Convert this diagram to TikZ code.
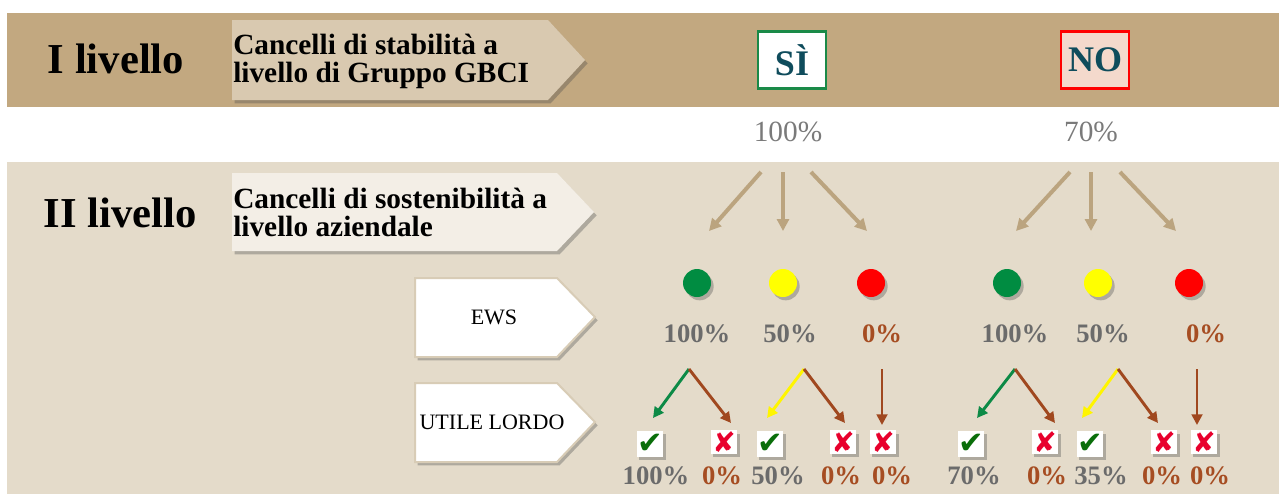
\documentclass[tikz,border=0pt]{standalone}
\usepackage{fontspec}
\setmainfont{Liberation Serif}
\newfontfamily\symb{DejaVu Sans}
\usetikzlibrary{arrows.meta,shadows,positioning,calc}

\definecolor{bandtop}{HTML}{C2A880}
\definecolor{bandlow}{HTML}{E4DBCA}
\definecolor{gatetop}{HTML}{D9C9B0}
\definecolor{gatelow}{HTML}{F3EEE6}
\definecolor{tagline}{HTML}{D8CCB6}
\definecolor{tanarrow}{HTML}{BBA47F}
\definecolor{dotgreen}{HTML}{008C41}
\definecolor{dotyellow}{HTML}{FFFF00}
\definecolor{dotred}{HTML}{FF0000}
\definecolor{toppctgray}{HTML}{7A7A7A}
\definecolor{pctgray}{HTML}{6B6B6B}
\definecolor{pctbrown}{HTML}{A64D22}
\definecolor{arrbrown}{HTML}{A0481F}
\definecolor{arrgreen}{HTML}{0C8A46}
\definecolor{arryellow}{HTML}{FFF500}
\definecolor{answerink}{HTML}{0F4C5C}
\definecolor{sigreen}{HTML}{1A8A48}
\definecolor{nored}{HTML}{FF0000}
\definecolor{nofill}{HTML}{F4D9CC}
\definecolor{okgreen}{HTML}{0A6E0A}
\definecolor{kored}{HTML}{E8002D}

\tikzset{
  softshadow/.style={drop shadow={shadow xshift=2pt, shadow yshift=-2.5pt, opacity=0.35, fill=black!70}},
  lvl/.style={font=\fontsize{32}{36}\selectfont\bfseries},
  gatetxt/.style={anchor=west, align=left, inner sep=0pt, font=\fontsize{22}{21}\selectfont\bfseries},
  tagshape/.style={fill=white, draw=tagline, line width=1.5pt, softshadow},
  tagtxt/.style={font=\fontsize{16.5}{18}\selectfont},
  ansbox/.style={line width=2.2pt, minimum width=51pt, minimum height=43pt, text=answerink, font=\fontsize{27}{30}\selectfont\bfseries},
  toppct/.style={text=toppctgray, font=\fontsize{22}{24}\selectfont},
  dot/.style={circle, minimum size=21pt, inner sep=0pt, softshadow},
  pct/.style={text=pctgray, font=\fontsize{20}{22}\selectfont\bfseries},
  zero/.style={pct, text=pctbrown},
  okbox/.style={fill=white, minimum width=20pt, minimum height=19.5pt, inner sep=0pt, softshadow, text=okgreen, font=\symb\fontsize{23}{23}\selectfont},
  kobox/.style={okbox, minimum height=17.5pt, text=kored, font=\symb\fontsize{21}{21}\selectfont},
  tanarr/.style={draw=tanarrow, line width=3pt, -{Triangle[length=9pt,width=9pt]}},
  forkarr/.style={line width=2.2pt, -{Triangle[length=8pt,width=8pt]}}
}

\begin{document}
\begin{tikzpicture}[x=0.75pt, y=-0.75pt]
    \useasboundingbox (0,0) rectangle (1279,494);

    % bands
    \fill[bandtop] (7,13) rectangle (1279,107);
    \fill[bandlow] (7,162) rectangle (1279,494);

    % level I
    \node[lvl] (lvl1) at (116,59) {I livello};
    \path[fill=gatetop, softshadow] (232,20) -- (548,20) -- (585,60) -- (548,100) -- (232,100) -- cycle;
    \node[gatetxt] (gate1) at (233,61) {Cancelli di stabilità a\\livello di Gruppo GBCI};
    \node[ansbox, draw=sigreen, fill=white] (si) at (792,60) {SÌ};
    \node[ansbox, draw=nored, fill=nofill] (no) at (1095,60) {NO};
    \node[toppct] (sipct) at (788,132) {100\%};
    \node[toppct] (nopct) at (1091,132) {70\%};

    % level II
    \node[lvl] (lvl2) at (120,213) {II livello};
    \path[fill=gatelow, softshadow] (232,173) -- (557,173) -- (594,212) -- (557,251) -- (232,251) -- cycle;
    \node[gatetxt] (gate2) at (233,212) {Cancelli di sostenibilità a\\livello aziendale};
    \path[tagshape] (415,278) -- (557,278) -- (595,317) -- (557,357) -- (415,357) -- cycle;
    \node[tagtxt] (ews) at (494,317) {EWS};
    \path[tagshape] (415,383) -- (557,383) -- (595,422) -- (557,462) -- (415,462) -- cycle;
    \node[tagtxt] (utile) at (492,422) {UTILE LORDO};

    % EWS lights
    \node[dot, fill=dotgreen] (g1) at (697,283) {};
    \node[dot, fill=dotyellow] (y1) at (783,283) {};
    \node[dot, fill=dotred] (r1) at (871,283) {};
    \node[dot, fill=dotgreen] (g2) at (1007,283) {};
    \node[dot, fill=dotyellow] (y2) at (1098,283) {};
    \node[dot, fill=dotred] (r2) at (1189,283) {};

    \node[pct] (g1pct) at (697,334) {100\%};
    \node[pct] (y1pct) at (790,334) {50\%};
    \node[zero] (r1pct) at (882,334) {0\%};
    \node[pct] (g2pct) at (1015,334) {100\%};
    \node[pct] (y2pct) at (1103,334) {50\%};
    \node[zero] (r2pct) at (1206,334) {0\%};

    % arrows from SI / NO
    \coordinate (sia) at (761,172); \coordinate (sib) at (783,172); \coordinate (sic) at (811,172);
    \coordinate (sia') at (709,231); \coordinate (sib') at (783,231); \coordinate (sic') at (867,231);
    \coordinate (noa) at (1070,172); \coordinate (nob) at (1091,172); \coordinate (noc) at (1120,172);
    \coordinate (noa') at (1016,231); \coordinate (nob') at (1091,231); \coordinate (noc') at (1176,231);
    \draw[tanarr] (sia) -- (sia');
    \draw[tanarr] (sib) -- (sib');
    \draw[tanarr] (sic) -- (sic');
    \draw[tanarr] (noa) -- (noa');
    \draw[tanarr] (nob) -- (nob');
    \draw[tanarr] (noc) -- (noc');

    % UTILE LORDO checks
    \node[okbox] (ok1) at (650,444) {✔};
    \node[kobox] (ko1) at (724,442) {✘};
    \node[okbox] (ok2) at (770,444) {✔};
    \node[kobox] (ko2) at (843,442) {✘};
    \node[kobox] (ko3) at (883,442) {✘};
    \node[okbox] (ok3) at (971,444) {✔};
    \node[kobox] (ko4) at (1045,442) {✘};
    \node[okbox] (ok4) at (1090,444) {✔};
    \node[kobox] (ko5) at (1164,442) {✘};
    \node[kobox] (ko6) at (1204,442) {✘};

    \node[pct] (ok1pct) at (656,476) {100\%};
    \node[zero] (ko1pct) at (722,476) {0\%};
    \node[pct] (ok2pct) at (778,476) {50\%};
    \node[zero] (ko2pct) at (841,476) {0\%};
    \node[zero] (ko3pct) at (892,476) {0\%};
    \node[pct] (ok3pct) at (974,476) {70\%};
    \node[zero] (ko4pct) at (1047,476) {0\%};
    \node[pct] (ok4pct) at (1101,476) {35\%};
    \node[zero] (ko5pct) at (1162,476) {0\%};
    \node[zero] (ko6pct) at (1210,476) {0\%};

    % forks
    \coordinate (fork1) at (689,369); \coordinate (fork2) at (804,369); \coordinate (fork3) at (882,369);
    \coordinate (fork4) at (1015,369); \coordinate (fork5) at (1118,369); \coordinate (fork6) at (1197,369);
    \coordinate (tip1) at (653,418); \coordinate (tip2) at (731,423); \coordinate (tip3) at (767,418);
    \coordinate (tip4) at (845,423); \coordinate (tip5) at (882,425); \coordinate (tip6) at (977,418);
    \coordinate (tip7) at (1055,423); \coordinate (tip8) at (1082,418); \coordinate (tip9) at (1158,423);
    \coordinate (tip10) at (1197,425);
    \draw[forkarr, arrgreen] (fork1) -- (tip1);
    \draw[forkarr, arrbrown] (fork1) -- (tip2);
    \draw[forkarr, arryellow] (fork2) -- (tip3);
    \draw[forkarr, arrbrown] (fork2) -- (tip4);
    \draw[forkarr, arrbrown] (fork3) -- (tip5);
    \draw[forkarr, arrgreen] (fork4) -- (tip6);
    \draw[forkarr, arrbrown] (fork4) -- (tip7);
    \draw[forkarr, arryellow] (fork5) -- (tip8);
    \draw[forkarr, arrbrown] (fork5) -- (tip9);
    \draw[forkarr, arrbrown] (fork6) -- (tip10);
\end{tikzpicture}
\end{document}
